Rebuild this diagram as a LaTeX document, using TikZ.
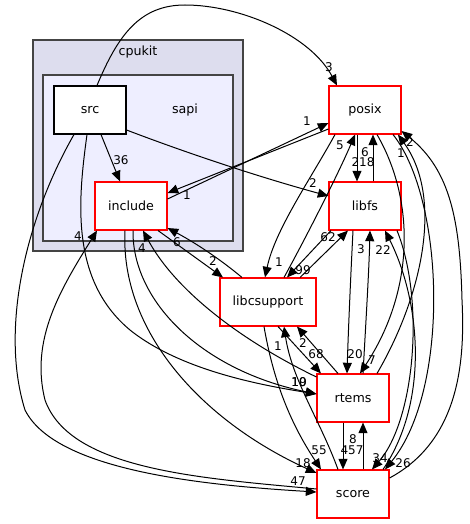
\documentclass[tikz,border=0pt]{standalone}
\usepackage{fontspec}
\setmainfont{DejaVu Sans}
\usetikzlibrary{arrows.meta}
\tikzset{>={Triangle[length=8pt,width=6.75pt]}}
\definecolor{clusterouter}{HTML}{DDDDEE}
\definecolor{clusterinner}{HTML}{EEEEFF}
\definecolor{clusterline}{HTML}{444444}
\tikzstyle{folder}=[rectangle,draw=black,fill=white,line width=0.8pt,minimum width=54pt,minimum height=36pt,inner sep=0pt,font=\fontsize{9.5}{11}\selectfont]
\tikzstyle{folderr}=[folder,draw=red]
\tikzstyle{elabel}=[inner sep=0pt,font=\fontsize{9}{10}\selectfont]
\tikzstyle{dep}=[->,line width=0.75pt]
\begin{document}
\begin{tikzpicture}[x=0.75pt,y=-0.75pt]
\useasboundingbox (0,0) rectangle (469,524);

% clusters
\draw[fill=clusterouter,draw=clusterline,line width=0.8pt] (33,40) rectangle (243,251);
\draw[fill=clusterinner,draw=clusterline,line width=0.8pt] (43,75) rectangle (233,241);
\node[elabel,font=\fontsize{9.5}{11}\selectfont] (cpukit) at (138,52) {cpukit};
\node[elabel,font=\fontsize{9.5}{11}\selectfont] (sapi) at (185,110) {sapi};

% directories
\node[folder] (src) at (90,110) {src};
\node[folderr] (include) at (131,206) {include};
\node[folderr] (posix) at (365,110) {posix};
\node[folderr] (libfs) at (365,206) {libfs};
\node[folderr,minimum width=72pt] (libcsupport) at (268,302) {libcsupport};
\node[folderr] (rtems) at (353,398) {rtems};
\node[folderr] (score) at (353,494) {score};

% from src
\draw[dep] ([xshift=5.25pt]src.north) .. controls (118,35) and (140,5) .. (185,5)
  .. controls (240,5) and (310,35) .. ([xshift=-21pt]posix.north);
\draw[dep] ([xshift=8.25pt]src.south) -- ([xshift=-8.25pt]include.north);
\draw[dep] ([yshift=-15pt]src.east) .. controls (200,158) and (270,180) .. ([yshift=7.5pt]libfs.west);
\draw[dep] ([xshift=-2.25pt]src.south) .. controls (78,200) and (70,280) .. (130,330)
  .. controls (180,370) and (260,385) .. ([yshift=3pt]rtems.west);
\draw[dep] ([xshift=-12pt]src.south) .. controls (25,220) and (0,330) .. (25,410)
  .. controls (55,470) and (200,485) .. ([yshift=1.5pt]score.west);

% include
\draw[dep] ([yshift=5.25pt]include.east) -- ([yshift=-9.75pt]posix.west);
\draw[dep] ([yshift=-14.25pt]posix.west) -- ([yshift=9.75pt]include.east);
\draw[dep] ([xshift=20.25pt]include.south) -- ([xshift=-33.75pt]libcsupport.north);
\draw[dep] ([xshift=-19.5pt]libcsupport.north) .. controls (215,255) and (190,240) .. ([yshift=-16.5pt]include.east);
\draw[dep] ([xshift=1.5pt]include.south) .. controls (132,300) and (200,370) .. ([yshift=3pt]rtems.west);
\draw[dep] ([xshift=-4.5pt]include.south) .. controls (120,330) and (200,420) .. ([yshift=15.75pt]score.west);
\draw[dep] ([yshift=15.75pt]rtems.west) .. controls (240,340) and (175,290) .. ([xshift=9pt]include.south);
\draw[dep] ([yshift=3.75pt]score.west) .. controls (200,478) and (70,470) .. (45,400)
  .. controls (30,340) and (60,290) .. ([xshift=-25.5pt]include.south);

% posix, libfs, libcsupport
\draw[dep] ([xshift=-22.5pt]posix.south) .. controls (310,180) and (275,230) .. ([xshift=-2.25pt]libcsupport.north);
\draw[dep] ([xshift=12pt]libcsupport.north) .. controls (310,230) and (340,170) .. ([xshift=-7.5pt]posix.south);
\draw[dep] ([xshift=-6pt]posix.south) -- ([xshift=-6pt]libfs.north);
\draw[dep] ([xshift=6pt]libfs.north) -- ([xshift=6pt]posix.south);
\draw[dep] ([xshift=-25.5pt]libfs.south) -- ([xshift=14.25pt]libcsupport.north);
\draw[dep] ([xshift=24pt]libcsupport.north) -- ([xshift=-12.75pt]libfs.south);

% rtems
\draw[dep] ([xshift=-9pt]libfs.south) .. controls (350,290) and (348,340) .. ([xshift=-4.5pt]rtems.north);
\draw[dep] ([xshift=7.5pt]rtems.north) .. controls (366,320) and (369,270) .. ([xshift=3.75pt]libfs.south);
\draw[dep] ([xshift=9pt]posix.south) .. controls (415,200) and (415,290) .. ([xshift=5.25pt]rtems.north);
\draw[dep] ([xshift=18pt]rtems.north) .. controls (420,300) and (445,200) .. ([xshift=24.75pt]posix.south);
\draw[dep] ([xshift=7.5pt]libcsupport.south) -- ([xshift=-24pt]rtems.north);
\draw[dep] ([xshift=-11.25pt]rtems.north) -- ([xshift=21.75pt]libcsupport.south);

% score
\draw[dep] ([xshift=-7.5pt]rtems.south) -- ([xshift=-7.5pt]score.north);
\draw[dep] ([xshift=7.5pt]score.north) -- ([xshift=7.5pt]rtems.south);
\draw[dep] ([xshift=-11.25pt]score.north) .. controls (320,420) and (292,380) .. ([xshift=12pt]libcsupport.south);
\draw[dep] ([xshift=-3pt]libcsupport.south) .. controls (275,390) and (295,430) .. ([xshift=-24pt]score.north);
\draw[dep] ([xshift=22.5pt]score.north) .. controls (430,400) and (420,300) .. ([xshift=15pt]libfs.south);
\draw[dep] ([xshift=24pt]libfs.south) .. controls (425,300) and (415,420) .. ([xshift=14.25pt]score.north);
\draw[dep] ([xshift=21pt]posix.south) .. controls (445,200) and (450,390) .. ([xshift=24pt]score.north);
\draw[dep] ([yshift=12pt]score.east) .. controls (460,440) and (465,360) .. (462,300)
  .. controls (460,220) and (450,170) .. ([yshift=-15.75pt]posix.east);

% edge labels
\foreach \nm/\px/\py/\txt in {l3/329/67/3, l36/121/160/36, lsrcfs/313/183/2,
  lincpos/307/121/1, lposinc/187/195/1, lscoinc/78/236/4, lrteinc/142/248/4,
  llcsinc/177/242/6, linclcs/213/261/2, lposlcs/279/262/1, lfslcs/303/270/99,
  llcsfs/328/237/62, llcspos/340/145/5, lfspos/365/152/6, lposfs/363/162/218,
  lrtepos/401/153/1, lscopos/410/142/2, lrtefs/361/249/3, lscofs/383/250/22,
  lscolcs/278/346/1, lrtelcs/303/343/2, llcsrte/316/354/68, lfsrte/355/354/20,
  lposrte/372/360/7, lsrcrte/299/382/10, lincrte/299/382/19, lscorte/353/439/8,
  lrtesco/352/450/457, llcssco/319/450/55, lincsco/303/463/18, lsrcsco/298/481/47,
  lfssco/380/458/34, lpossco/403/463/26} {
	\node[elabel] (\nm) at (\px,\py) {\txt};
};

\end{tikzpicture}
\end{document}
